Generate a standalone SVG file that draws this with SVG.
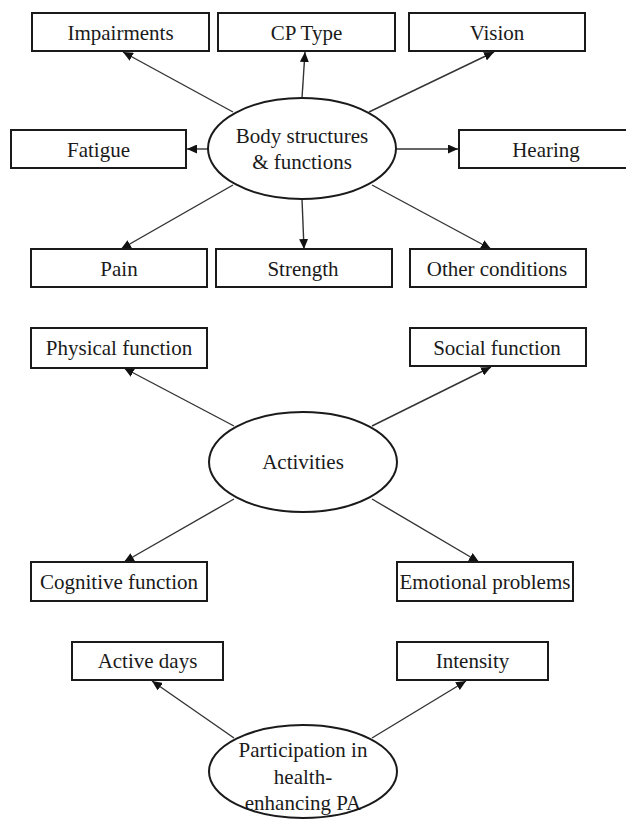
<svg xmlns="http://www.w3.org/2000/svg" width="626" height="821" viewBox="0 0 626 821">
  <style>
    .box { fill: #ffffff; stroke: #1a1a1a; stroke-width: 2; }
    .hub { fill: #ffffff; stroke: #1a1a1a; stroke-width: 2; }
    .lbl { font-family: "Liberation Serif", "Times New Roman", serif; font-size: 21px; fill: #1a1a1a; text-anchor: middle; }
    .edge { stroke: #333333; stroke-width: 1.4; fill: none; marker-end: url(#arrow); }
  </style>
  <defs>
    <marker id="arrow" markerUnits="userSpaceOnUse" markerWidth="10" markerHeight="9" refX="10" refY="4.5" orient="auto">
      <path d="M0,0 L10,4.5 L0,9 z" fill="#111111"/>
    </marker>
  </defs>
  <rect width="626" height="821" fill="#ffffff"/>

  <!-- connectors -->
  <g id="connectors">
    <!-- body structures & functions -->
    <line class="edge" x1="233" y1="112" x2="123" y2="52"/>
    <line class="edge" x1="302" y1="98" x2="305" y2="52"/>
    <line class="edge" x1="369" y1="112" x2="494" y2="52"/>
    <line class="edge" x1="208" y1="149" x2="187" y2="149"/>
    <line class="edge" x1="396" y1="149" x2="458" y2="149"/>
    <line class="edge" x1="233" y1="185" x2="121" y2="249"/>
    <line class="edge" x1="302" y1="199" x2="304" y2="249"/>
    <line class="edge" x1="372" y1="185" x2="491" y2="249"/>
    <!-- activities -->
    <line class="edge" x1="234" y1="426" x2="124" y2="368"/>
    <line class="edge" x1="372" y1="426" x2="491" y2="367"/>
    <line class="edge" x1="234" y1="499" x2="124" y2="562"/>
    <line class="edge" x1="372" y1="499" x2="479" y2="562"/>
    <!-- participation -->
    <line class="edge" x1="234" y1="738" x2="152" y2="681"/>
    <line class="edge" x1="372" y1="738" x2="466" y2="681"/>
  </g>

  <!-- section 1 -->
  <g id="impairments"><rect class="box" x="32" y="13" width="177" height="38"/><text class="lbl" x="120.5" y="40">Impairments</text></g>
  <g id="cp-type"><rect class="box" x="218" y="13" width="177" height="38"/><text class="lbl" x="306.5" y="40">CP Type</text></g>
  <g id="vision"><rect class="box" x="409" y="13" width="176" height="38"/><text class="lbl" x="497" y="40">Vision</text></g>
  <g id="fatigue"><rect class="box" x="11" y="130" width="175" height="38"/><text class="lbl" x="98.5" y="157">Fatigue</text></g>
  <g id="hearing"><rect class="box" x="459" y="130" width="180" height="38"/><text class="lbl" x="546" y="157">Hearing</text></g>
  <g id="body-structures">
    <ellipse class="hub" cx="302" cy="148.5" rx="94" ry="50.5"/>
    <text class="lbl" x="302" y="143">Body structures</text>
    <text class="lbl" x="302" y="169">&amp; functions</text>
  </g>
  <g id="pain"><rect class="box" x="31" y="249" width="176" height="38"/><text class="lbl" x="119" y="276">Pain</text></g>
  <g id="strength"><rect class="box" x="216" y="249" width="176" height="38"/><text class="lbl" x="303" y="276">Strength</text></g>
  <g id="other-conditions"><rect class="box" x="410" y="249" width="176" height="38"/><text class="lbl" x="497" y="276">Other conditions</text></g>

  <!-- section 2 -->
  <g id="physical-function"><rect class="box" x="31" y="328" width="176" height="40"/><text class="lbl" x="119" y="355">Physical function</text></g>
  <g id="social-function"><rect class="box" x="410" y="328" width="176" height="38"/><text class="lbl" x="497" y="355">Social function</text></g>
  <g id="activities">
    <ellipse class="hub" cx="303" cy="462" rx="94" ry="50"/>
    <text class="lbl" x="303" y="469">Activities</text>
  </g>
  <g id="cognitive-function"><rect class="box" x="31" y="562" width="176" height="39"/><text class="lbl" x="119" y="589">Cognitive function</text></g>
  <g id="emotional-problems"><rect class="box" x="397" y="562" width="176" height="39"/><text class="lbl" x="485" y="589">Emotional problems</text></g>

  <!-- section 3 -->
  <g id="active-days"><rect class="box" x="72" y="642" width="151" height="38"/><text class="lbl" x="147.5" y="668">Active days</text></g>
  <g id="intensity"><rect class="box" x="397" y="642" width="151" height="38"/><text class="lbl" x="472.5" y="668">Intensity</text></g>
  <g id="participation">
    <ellipse class="hub" cx="303" cy="771.5" rx="94" ry="46.5"/>
    <text class="lbl" x="303" y="757">Participation in</text>
    <text class="lbl" x="303" y="784">health-</text>
    <text class="lbl" x="303" y="810">enhancing PA</text>
  </g>
</svg>
